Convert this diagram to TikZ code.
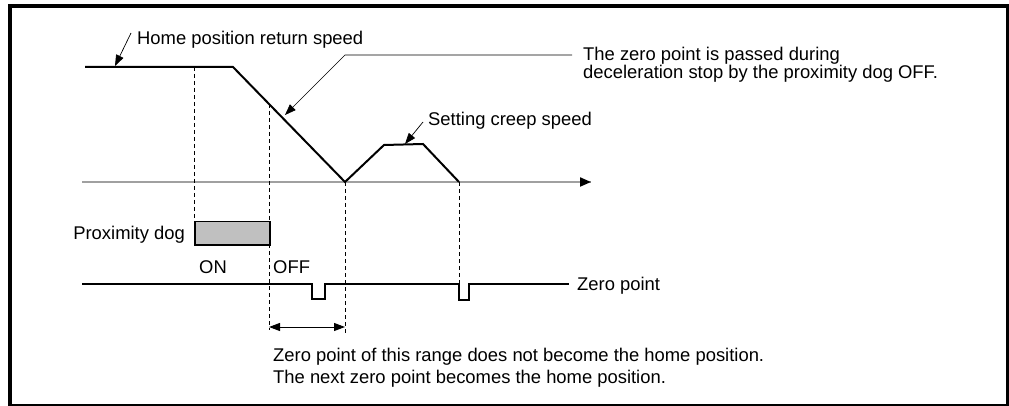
\documentclass[tikz,border=0pt]{standalone}
\usepackage{fontspec}
\setmainfont{Liberation Sans}
\usepackage{xcolor}
\definecolor{hrpdogfill}{HTML}{C0C0C0}
\definecolor{hrpaxis}{HTML}{A0A0A0}
\usetikzlibrary{arrows.meta}
\tikzset{
  hrpwave/.style={line width=2pt,line join=miter},
  hrpdash/.style={line width=0.8pt,dash pattern=on 4pt off 3pt},
  hrplead/.style={line width=0.7pt,-{Triangle[length=11pt,width=8pt]}},
  hrpspan/.style={line width=1pt,{Triangle[length=11pt,width=8pt]}-{Triangle[length=11pt,width=8pt]}},
  hrptext/.style={inner sep=0pt,font=\fontsize{18.4}{20}\selectfont},
}

\begin{document}
\begin{tikzpicture}[x=1pt,y=-1pt]
\useasboundingbox (0,0) rectangle (1009,406);
 % frame
\fill (8,4) rectangle (1009,8);
\fill (8,4) rectangle (12,406);
\fill (1006,4) rectangle (1009,406);
\fill (8,404) rectangle (1009,406);
 % speed curve
\coordinate (sp0) at (85,67);
\coordinate (sp1) at (233,67);
\coordinate (sp2) at (345,182);
\coordinate (sp3) at (384,145);
\coordinate (sp4) at (423,144);
\coordinate (sp5) at (459,182);
\coordinate (ax0) at (82,182);
\coordinate (ax1) at (591,182);
\draw[hrpaxis,line width=2pt] (ax0)--(ax1);
\draw[line width=2pt,-{Triangle[length=11pt,width=9pt]}] (580,182)--(ax1);
\draw[hrpwave] (sp0)--(sp1)--(sp2)--(sp3)--(sp4)--(sp5);
 % proximity dog
\node[draw,line width=1.5pt,fill=hrpdogfill,minimum width=75pt,minimum height=23pt,inner sep=0pt,anchor=north west] (dog) at (194,221) {};
\node[hrptext,anchor=base east] (doglbl) at (185,240) {Proximity dog};
\node[hrptext,anchor=base] (on) at (213,273) {ON};
\node[hrptext,anchor=base west] (off) at (273,273) {OFF};
 % zero point signal
\coordinate (zp0) at (82,284);
\coordinate (zp1) at (569,284);
\draw[hrpwave] (zp0)--(312,284)--(312,299)--(325,299)--(325,284)--(459,284)--(459,300)--(469,300)--(469,284)--(zp1);
\node[hrptext,anchor=base west] (zplbl) at (577,290) {Zero point};
 % dashed guides
\draw[hrpdash] (sp0 -| dog.north west) -- (dog.north west);
\draw[hrpdash] (269,104)--(269,330);
\draw[hrpdash] (sp2)--(345,333);
\draw[hrpdash] (sp5)--(459,284);
 % range
\coordinate (rg0) at (269,327);
\coordinate (rg1) at (345,327);
\draw[hrpspan] (rg0)--(rg1);
\node[hrptext,anchor=base west] (rgA) at (273,361) {Zero point of this range does not become the home position.};
\node[hrptext,anchor=base west] (rgB) at (273,383) {The next zero point becomes the home position.};
 % callouts
\node[hrptext,anchor=base west] (homelbl) at (137,45) {Home position return speed};
\coordinate (homeA) at (131,33);
\coordinate (homeB) at (115,66);
\draw[hrplead] (homeA)--(homeB);
\node[hrptext,anchor=base west] (passA) at (583,61) {The zero point is passed during};
\node[hrptext,anchor=base west] (passB) at (583,79) {deceleration stop by the proximity dog OFF.};
\coordinate (passC) at (572,55);
\coordinate (passD) at (345,55);
\coordinate (passE) at (285,115);
\draw[hrplead] (passC)--(passD)--(passE);
\node[hrptext,anchor=base west] (creeplbl) at (428,126) {Setting creep speed};
\coordinate (creepA) at (423,122);
\coordinate (creepB) at (405,144);
\draw[hrplead] (creepA)--(creepB);
\end{tikzpicture}
\end{document}
